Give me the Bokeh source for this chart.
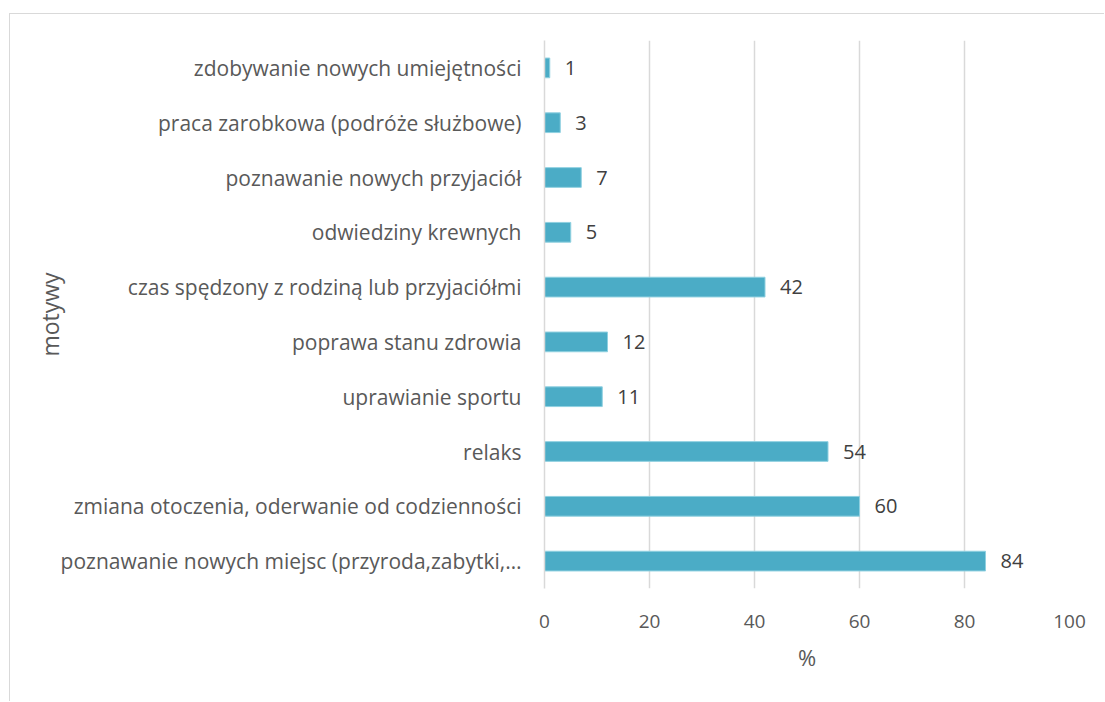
from bokeh.plotting import figure
from bokeh.models import FactorRange, Range1d, FixedTicker, ColumnDataSource
from bokeh.core.properties import value
from bokeh.embed import file_html
from bokeh.resources import INLINE

categories = [
    "zdobywanie nowych umiejętności",
    "praca zarobkowa (podróże służbowe)",
    "poznawanie nowych przyjaciół",
    "odwiedziny krewnych",
    "czas spędzony z rodziną lub przyjaciółmi",
    "poprawa stanu zdrowia",
    "uprawianie sportu",
    "relaks",
    "zmiana otoczenia, oderwanie od codzienności",
    "poznawanie nowych miejsc (przyroda,zabytki,…",
]
values = [1, 3, 7, 5, 42, 12, 11, 54, 60, 84]
x_ticks = [0, 20, 40, 60, 80, 100]

FONT = "Open Sans"
src = ColumnDataSource(dict(cat=categories, val=values, lbl=[str(v) for v in values]))

p = figure(
    width=1095, height=688,
    y_range=FactorRange(*reversed(categories), range_padding=0),
    x_range=Range1d(0, 100),
    output_backend="svg", toolbar_location=None,
    min_border_left=534, min_border_right=36, min_border_top=26, min_border_bottom=114,
)
p.styles = {"margin-left": "9px", "margin-top": "13px",
            "border-left": "1px solid #d9d9d9", "border-top": "1px solid #d9d9d9"}
p.outline_line_color = None

p.hbar(y="cat", right="val", left=0, height=0.36, source=src,
       fill_color="#4BACC6", line_color="#8fd0e0", line_width=1)
p.text(x="val", y="cat", text="lbl", source=src, x_offset=15,
       text_baseline="middle", text_align="left",
       text_font=value(FONT), text_font_size="20px", text_color="#404040")

p.xgrid.ticker = FixedTicker(ticks=x_ticks)
p.xgrid.grid_line_color = "#d9d9d9"
p.xgrid.grid_line_width = 1.5
p.ygrid.grid_line_color = None

p.xaxis.ticker = FixedTicker(ticks=x_ticks)
p.xaxis.axis_line_color = None
p.xaxis.major_tick_line_color = None
p.xaxis.minor_tick_line_color = None
p.xaxis.major_label_text_font = FONT
p.xaxis.major_label_text_font_size = "19px"
p.xaxis.major_label_text_color = "#595959"
p.xaxis.major_label_standoff = 20
p.xaxis.axis_label = "%"
p.xaxis.axis_label_text_font = FONT
p.xaxis.axis_label_text_font_size = "22px"
p.xaxis.axis_label_text_font_style = "normal"
p.xaxis.axis_label_text_color = "#595959"
p.xaxis.axis_label_standoff = 11

p.yaxis.axis_line_color = "#d9d9d9"
p.yaxis.axis_line_width = 1.5
p.yaxis.major_tick_line_color = None
p.yaxis.minor_tick_line_color = None
p.yaxis.major_label_text_font = FONT
p.yaxis.major_label_text_font_size = "21px"
p.yaxis.major_label_text_color = "#595959"
p.yaxis.major_label_standoff = 17
p.yaxis.axis_label = "motywy"
p.yaxis.axis_label_text_font = FONT
p.yaxis.axis_label_text_font_size = "23px"
p.yaxis.axis_label_text_font_style = "normal"
p.yaxis.axis_label_text_color = "#595959"
p.yaxis.axis_label_standoff = -8

open("out.html", "w").write(file_html(p, INLINE))
